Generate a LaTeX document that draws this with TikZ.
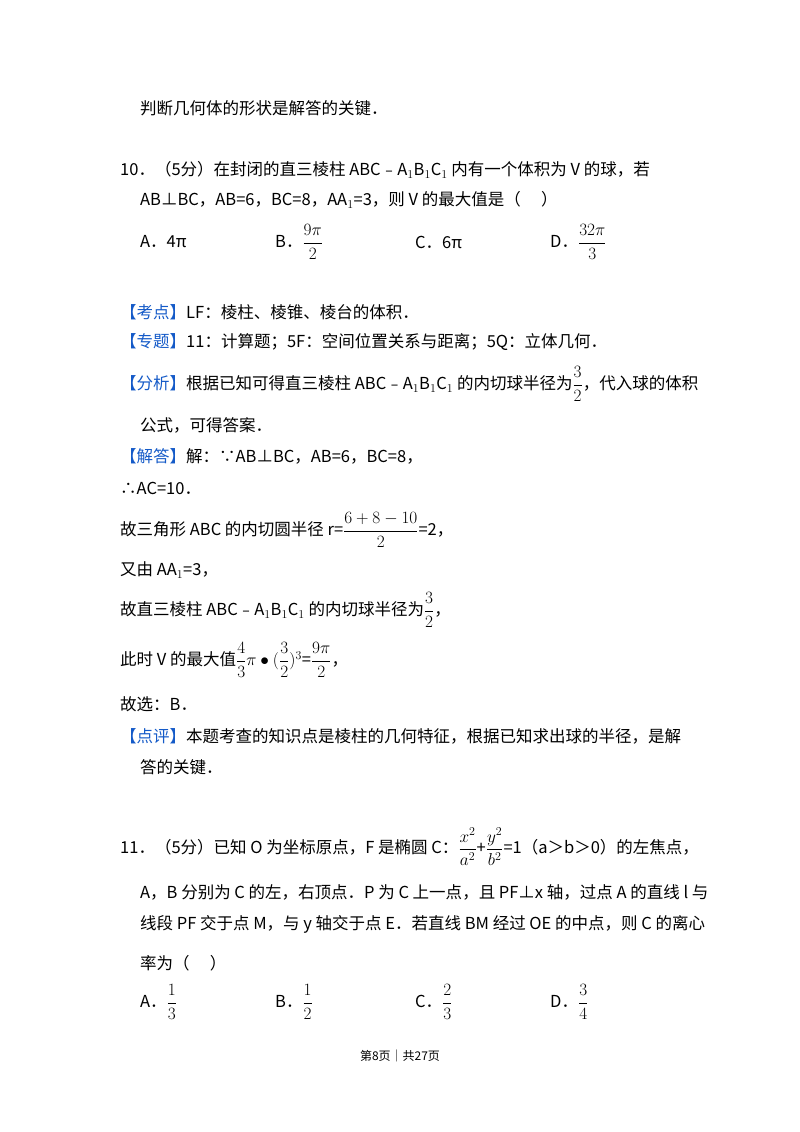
\documentclass[tikz,border=0pt]{standalone}
\usepackage{amsmath}
\usepackage{fontspec}
\setmainfont{Noto Sans CJK SC}
\definecolor{kb}{RGB}{20,90,200}
\newcommand{\kt}[1]{{\color{kb}【#1】}}
\begin{document}
\begin{tikzpicture}[x=1pt,y=-1pt,
  t/.style={anchor=west,inner sep=0pt,font=\fontsize{16.5}{19}\selectfont},
  ft/.style={font=\fontsize{12}{14}\selectfont}]
\useasboundingbox[fill=white] (0,0) rectangle (800,1132);
\node[t] (l1) at (140,108) {判断几何体的形状是解答的关键．};
\node[t] (l2) at (120,170) {10．（5分）在封闭的直三棱柱 ABC﹣A$_1$B$_1$C$_1$ 内有一个体积为 V 的球，若};
\node[t] (l3) at (140,200) {AB⊥BC，AB=6，BC=8，AA$_1$=3，则 V 的最大值是（\quad\ ）};
\node[t] (o1) at (140,242) {A．4π};
\node[t] (o2) at (275,242) {B．$\dfrac{9\pi}{2}$};
\node[t] (o3) at (415,242) {C．6π};
\node[t] (o4) at (550,242) {D．$\dfrac{32\pi}{3}$};
\node[t] (k1) at (120,312) {\kt{考点}LF：棱柱、棱锥、棱台的体积．};
\node[t] (k2) at (120,342) {\kt{专题}11：计算题；5F：空间位置关系与距离；5Q：立体几何．};
\node[t] (k3) at (120,384) {\kt{分析}根据已知可得直三棱柱 ABC﹣A$_1$B$_1$C$_1$ 的内切球半径为$\dfrac{3}{2}$，代入球的体积};
\node[t] (k4) at (140,425) {公式，可得答案．};
\node[t] (k5) at (120,456) {\kt{解答}解：∵AB⊥BC，AB=6，BC=8，};
\node[t] (s1) at (120,488) {∴AC=10．};
\node[t] (s2) at (120,530) {故三角形 ABC 的内切圆半径 r=$\dfrac{6+8-10}{2}$=2，};
\node[t] (s3) at (120,570) {又由 AA$_1$=3，};
\node[t] (s4) at (120,610) {故直三棱柱 ABC﹣A$_1$B$_1$C$_1$ 的内切球半径为$\dfrac{3}{2}$，};
\node[t] (s5) at (120,660) {此时 V 的最大值$\dfrac{4}{3}\pi\bullet(\dfrac{3}{2})^3$=$\dfrac{9\pi}{2}$，};
\node[t] (s6) at (120,704) {故选：B．};
\node[t] (k6) at (120,736) {\kt{点评}本题考查的知识点是棱柱的几何特征，根据已知求出球的半径，是解};
\node[t] (k7) at (140,767) {答的关键．};
\node[t] (q1) at (120,847) {11．（5分）已知 O 为坐标原点，F 是椭圆 C：$\dfrac{x^2}{a^2}$+$\dfrac{y^2}{b^2}$=1（a＞b＞0）的左焦点，};
\node[t] (q2) at (140,892) {A，B 分别为 C 的左，右顶点．P 为 C 上一点，且 PF⊥x 轴，过点 A 的直线 l 与};
\node[t] (q3) at (140,924) {线段 PF 交于点 M，与 y 轴交于点 E．若直线 BM 经过 OE 的中点，则 C 的离心};
\node[t] (q4) at (140,963) {率为（\quad\ ）};
\node[t] (p1) at (140,1002) {A．$\dfrac{1}{3}$};
\node[t] (p2) at (275,1002) {B．$\dfrac{1}{2}$};
\node[t] (p3) at (415,1002) {C．$\dfrac{2}{3}$};
\node[t] (p4) at (550,1002) {D．$\dfrac{3}{4}$};
\node[ft] (pg) at (400,1056) {第8页｜共27页};
\end{tikzpicture}
\end{document}
